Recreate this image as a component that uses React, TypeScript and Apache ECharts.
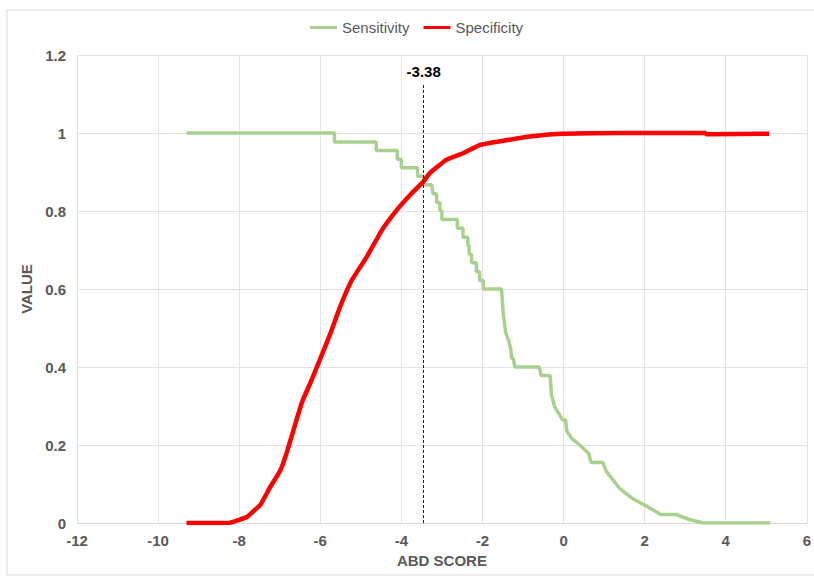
import React, { useEffect, useRef } from "react";
import * as echarts from "echarts";

const xTicks = { min: -12, max: 6, interval: 2 };
const yTicks = { min: 0, max: 1.2, interval: 0.2 };

const sensX = [
  -9.3, -5.65, -5.65, -4.62, -4.62, -4.1, -4.1, -4.0, -4.0, -3.6, -3.6, -3.45, -3.45, -3.25,
  -3.22, -3.13, -3.13, -3.05, -3.05, -3.0, -3.0, -2.62, -2.62, -2.48, -2.48, -2.36, -2.36,
  -2.33, -2.33, -2.27, -2.27, -2.15, -2.15, -2.07, -2.07, -1.98, -1.98, -1.53, -1.49, -1.43,
  -1.4, -1.35, -1.3, -1.28, -1.24, -1.2, -0.6, -0.55, -0.33, -0.3, -0.22, -0.02, 0.05, 0.08,
  0.2, 0.4, 0.62, 0.68, 0.97, 1.05, 1.38, 1.71, 2.03, 2.4, 2.77, 3.1, 3.45, 5.1,
];
const sensY = [
  1.0, 1.0, 0.977, 0.977, 0.955, 0.955, 0.933, 0.933, 0.911, 0.911, 0.889, 0.889, 0.867, 0.867,
  0.844, 0.844, 0.822, 0.822, 0.8, 0.8, 0.778, 0.778, 0.756, 0.756, 0.733, 0.733, 0.711,
  0.711, 0.689, 0.689, 0.667, 0.667, 0.644, 0.644, 0.622, 0.622, 0.6, 0.6, 0.54, 0.49,
  0.48, 0.467, 0.445, 0.422, 0.422, 0.4, 0.4, 0.378, 0.378, 0.33, 0.298, 0.264, 0.264, 0.235,
  0.217, 0.2, 0.178, 0.155, 0.155, 0.133, 0.089, 0.062, 0.044, 0.022, 0.022, 0.009, 0.0, 0.0,
];

const specX = [
  -9.3, -8.26, -8.0, -7.8, -7.6, -7.48, -7.23, -6.98, -6.82, -6.61, -6.45, -6.2, -6.08, -5.75,
  -5.51, -5.22, -4.85, -4.48, -4.11, -3.75, -3.46, -3.3, -2.89, -2.48, -2.07, -1.49, -0.84,
  -0.27, 0.0, 1.38, 3.49, 3.52, 5.07,
];
const specY = [
  0.0, 0.0, 0.008, 0.016, 0.035, 0.046, 0.093, 0.136, 0.183, 0.256, 0.31, 0.37, 0.401, 0.486,
  0.555, 0.623, 0.683, 0.751, 0.803, 0.845, 0.875, 0.897, 0.931, 0.948, 0.969, 0.98, 0.991,
  0.997, 0.998, 1.0, 1.0, 0.997, 0.998,
];

const cutoffPos = -3.45;
const cutoffTop = 1.128;
const cutoffLabel = "-3.38";

const seriesNames = ["Sensitivity", "Specificity"];

export default function App() {
  const ref = useRef<HTMLDivElement>(null);
  useEffect(() => {
    if (!ref.current) return;
    const chart = echarts.init(ref.current, null, { renderer: "svg" });
    const font = "'Liberation Sans', Arial, Helvetica, sans-serif";
    const grey = "#595959";
    chart.setOption({
      animation: false,
      backgroundColor: "#ffffff",
      textStyle: { fontFamily: font },
      graphic: [
        {
          type: "rect",
          shape: { x: 7, y: 10, width: 830, height: 565 },
          style: { fill: "none", stroke: "#d9d9d9", lineWidth: 1 },
          silent: true,
          z: -1,
        },
      ],
      legend: {
        data: seriesNames.map((n) => ({ name: n, icon: "rect" })),
        left: 305,
        top: 15,
        itemWidth: 27,
        itemHeight: 3,
        itemGap: 14,
        textStyle: { color: grey, fontSize: 15, fontFamily: font },
      },
      grid: { left: 77, right: 5, top: 55, bottom: 56, containLabel: false },
      xAxis: {
        type: "value",
        min: xTicks.min,
        max: xTicks.max,
        interval: xTicks.interval,
        name: "ABD SCORE",
        nameLocation: "middle",
        nameGap: 27,
        nameTextStyle: { color: grey, fontSize: 15, fontWeight: "bold", fontFamily: font },
        axisLine: { show: true, lineStyle: { color: "#d9d9d9" } },
        axisTick: { show: false },
        axisLabel: { color: grey, fontSize: 15, fontWeight: "bold", margin: 10, fontFamily: font },
        splitLine: { show: true, lineStyle: { color: "#e3e3e3" } },
      },
      yAxis: {
        type: "value",
        min: yTicks.min,
        max: yTicks.max,
        interval: yTicks.interval,
        name: "VALUE",
        nameLocation: "middle",
        nameGap: 40,
        nameTextStyle: { color: grey, fontSize: 15, fontWeight: "bold", fontFamily: font },
        axisLine: { show: false },
        axisTick: { show: false },
        axisLabel: { color: grey, fontSize: 15, fontWeight: "bold", margin: 11, fontFamily: font },
        splitLine: { show: true, lineStyle: { color: "#e3e3e3" } },
      },
      series: [
        {
          name: seriesNames[0],
          type: "line",
          symbol: "none",
          data: sensX.map((x, i) => [x, sensY[i]]),
          lineStyle: { color: "#a9d18e", width: 3.5 },
          itemStyle: { color: "#a9d18e" },
          z: 2,
          markLine: {
            silent: true,
            symbol: ["none", "none"],
            lineStyle: { color: "#222", width: 1, type: [3, 2] },
            label: {
              show: true,
              position: "end",
              formatter: cutoffLabel,
              color: "#000",
              fontSize: 15,
              fontWeight: "bold",
              fontFamily: font,
              distance: 4,
            },
            data: [[{ coord: [cutoffPos, 0] }, { coord: [cutoffPos, cutoffTop] }]],
          },
        },
        {
          name: seriesNames[1],
          type: "line",
          symbol: "none",
          smooth: 0.15,
          data: specX.map((x, i) => [x, specY[i]]),
          lineStyle: { color: "#ff0000", width: 4.5 },
          itemStyle: { color: "#ff0000" },
          z: 3,
        },
      ],
    });
    return () => chart.dispose();
  }, []);
  return (
    <div
      ref={ref}
      style={{ position: "fixed", left: 0, top: 0, width: 814, height: 579 }}
    />
  );
}
